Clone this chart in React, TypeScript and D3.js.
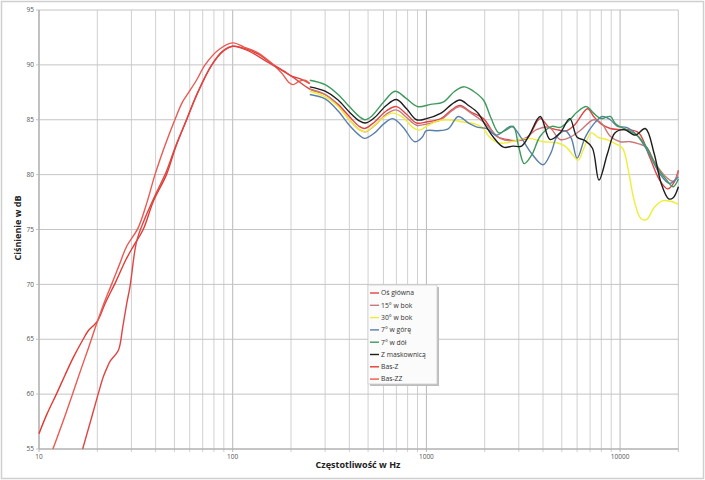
import React from "react";
import * as d3 from "d3";

type P = [number, number];

const yTicks = [55, 60, 65, 70, 75, 80, 85, 90, 95];
const xTickLabels = [10, 100, 1000, 10000];

const seriesNames = ["Oś główna", "15° w bok", "30° w bok", "7° w górę", "7° w dół", "Z maskownicą", "Bas-Z", "Bas-ZZ"];
const seriesColors = ["#e04545", "#c87a7a", "#eeee3a", "#5a80aa", "#3e9a5c", "#1e1e1e", "#e23a32", "#ea5a52"];

const osGlowna: P[] = [[16.8,55],[18.5,57.6],[20.2,60],[21.5,61.6],[22.7,62.6],[23.3,63],[25.7,64],[27,66],[28.4,68.3],[29.5,69.8],[31.9,73.9],[35,75.9],[40,78.2],[45.5,80.3],[51,82.7],[57.8,85],[65,87.2],[78,90],[90,91.3],[100,91.7],[120,91.3],[150,90.3],[200,89.0],[250,87.8],[300,87.3],[350,86.4],[400,85.3],[450,84.4],[480,84.2],[540,84.8],[620,85.8],[700,86.2],[790,85.5],[890,84.7],[1000,84.8],[1190,85.1],[1350,85.9],[1490,86.3],[1700,85.7],[1970,85.1],[2300,83.5],[2600,83.2],[2900,83.1],[3300,83.3],[3870,85.1],[4300,84.3],[4700,84.1],[5300,84.0],[5800,84.5],[6800,86.0],[7300,85.3],[8000,84.6],[8900,84.2],[9900,84.1],[11000,84.1],[12500,83.8],[14200,81.6],[16000,79.5],[17600,78.7],[19000,79.3],[20000,80.4]];
const bok15: P[] = [[250,87.8],[300,87.3],[350,86.3],[400,85.0],[450,84.1],[485,83.9],[550,84.6],[620,85.5],[700,85.9],[790,85.2],[890,84.5],[1000,84.6],[1190,85.0],[1350,85.8],[1490,86.2],[1700,85.6],[2000,84.7],[2400,83.3],[2900,83.1],[3300,83.4],[3700,84.1],[4300,84.3],[4900,83.2],[5500,83.4],[6200,84.0],[7300,85.0],[8000,84.7],[8900,83.5],[10000,83.0],[11300,83.0],[12500,82.8],[13700,82.5],[15000,81.2],[17000,79.9],[18800,79.4],[20000,80.2]];
const bok30: P[] = [[250,87.6],[300,87.1],[350,86.2],[400,85.0],[450,84.1],[480,83.9],[540,84.5],[600,85.2],[670,85.6],[760,85.2],[850,84.3],[920,84.05],[1000,84.4],[1150,84.9],[1300,85.0],[1550,84.8],[1800,84.6],[1970,84.2],[2100,83.5],[2350,82.9],[2600,82.9],[2900,83.1],[3400,83.3],[4000,83.0],[4700,82.9],[5200,82.6],[5700,81.8],[6070,81.3],[6500,82.4],[7100,83.8],[7700,83.4],[8500,83.2],[9500,82.8],[10300,82.4],[11000,80.5],[11800,77.7],[12800,76.0],[13700,75.9],[15000,77.0],[16500,77.6],[18000,77.6],[20000,77.3]];
const gora7: P[] = [[250,87.3],[300,86.9],[350,85.8],[400,84.5],[450,83.6],[480,83.3],[540,83.8],[600,84.6],[670,85.1],[760,84.3],[870,83.0],[950,83.4],[1000,84.0],[1150,84.0],[1300,84.2],[1460,85.3],[1650,84.7],[1850,84.3],[2050,84.2],[2300,83.6],[2750,84.4],[3100,83.3],[3500,81.9],[4000,80.9],[4400,82.0],[4700,83.4],[5200,84.0],[5600,83.3],[6000,81.5],[6600,83.4],[7300,84.6],[8100,85.3],[8900,85.0],[9700,84.4],[10800,84.3],[12200,83.6],[14000,82.0],[16000,80.1],[18000,79.2],[20000,79.8]];
const dol7: P[] = [[250,88.6],[300,88.2],[350,87.3],[400,86.2],[450,85.3],[480,85.0],[520,85.3],[600,86.6],[690,87.6],[780,87.0],[900,86.2],[1050,86.4],[1220,86.6],[1400,87.6],[1570,88.0],[1750,87.6],[1970,86.8],[2150,85.2],[2370,83.8],[2600,84.1],[2810,84.4],[3000,82.5],[3200,81.0],[3500,81.8],[3870,83.5],[4440,84.4],[4900,84.3],[5500,85.0],[6000,85.7],[6700,86.2],[7300,85.6],[8000,85.1],[8900,85.3],[9500,84.6],[10800,84.1],[12200,83.6],[13700,82.5],[15450,80.7],[17400,79.5],[18800,78.9],[20000,79.6]];
const maskownica: P[] = [[250,88.0],[300,87.6],[350,86.8],[400,85.7],[450,84.9],[485,84.7],[540,85.2],[620,86.3],[700,86.85],[790,86.0],[890,85.0],[1000,85.1],[1190,85.6],[1350,86.4],[1490,86.8],[1650,86.3],[1850,85.6],[2000,84.6],[2210,83.45],[2500,82.5],[2800,82.6],[3100,82.6],[3400,83.6],[3870,85.3],[4350,83.2],[4900,83.8],[5500,85.1],[6000,83.4],[6600,83.1],[7200,82.4],[7780,79.5],[8600,81.9],[9400,83.8],[10500,84.1],[12000,83.6],[13500,84.2],[15000,81.9],[16300,79.2],[17800,77.8],[18800,77.9],[20000,78.9]];
const basZ: P[] = [[10,56.4],[11,58.2],[12.3,60],[13.6,61.7],[15,63.3],[16.9,65],[18,65.8],[19,66.2],[20.1,66.7],[22,68.3],[25,70.3],[28,72.2],[31,73.6],[34.5,75],[39,77.6],[45.5,80],[51,82.6],[57.8,85],[66,87.5],[78,90],[88,91.2],[100,91.7],[115,91.5],[135,91.0],[160,90.1],[185,89.4],[200,89.0],[225,88.7],[250,88.3]];
const basZZ: P[] = [[11.8,55],[13.3,57.5],[14.9,60],[16.5,62.3],[18,64.2],[20.1,66.7],[22,68.6],[23.7,70],[26,71.8],[28.4,73.5],[32.4,75.1],[36,77.4],[39.7,80],[45,82.8],[50.3,85],[55,86.6],[58.8,87.4],[65,88.6],[72,90],[85,91.4],[100,92.0],[115,91.6],[135,91.1],[160,90.1],[180,89.2],[195,88.4],[205,88.2],[220,88.5],[236,88.6],[250,88.3]];

const seriesData: P[][] = [osGlowna, bok15, bok30, gora7, dol7, maskownica, basZ, basZZ];
const drawOrder = [6, 7, 0, 1, 2, 3, 4, 5];

const W = 705, H = 480;
const L = 39, R = 678.4, T = 10, B = 449;

export default function App() {
  const x = d3.scaleLog().domain([10, 20000]).range([L, R]);
  const y = d3.scaleLinear().domain([55, 95]).range([B, T]);
  const line = d3.line<P>().x(d => x(d[0])).y(d => y(d[1])).curve(d3.curveCatmullRom.alpha(0.5));

  const vGrid: number[] = [];
  for (let dec = 10; dec <= 10000; dec *= 10) {
    for (let m = 1; m <= 9; m++) {
      const v = dec * m;
      if (v <= 20000) vGrid.push(v);
    }
  }
  vGrid.push(20000);

  const font = "'Open Sans', 'Liberation Sans', sans-serif";
  const legX = 368, legY = 285, legW = 69, legH = 99, rowH = 12.3;

  return (
    <div style={{ position: "fixed", left: 0, top: 0 }}>
      <svg width={W} height={H} style={{ display: "block", background: "#fff" }}>
        <rect x={1.5} y={1.5} width={W - 3} height={H - 3} fill="#fff" stroke="#cfcfcf" strokeWidth={1.5} />
        <g>
          {vGrid.map((v, i) => {
            const major = Math.abs(Math.log10(v) % 1) < 1e-9;
            return (
              <line key={"v" + i} x1={x(v)} x2={x(v)} y1={T} y2={B + 3} stroke={major ? "#b8b8b8" : "#d0d0d0"} strokeWidth={1} />
            );
          })}
          {yTicks.map(t => (
            <line key={"h" + t} x1={L - 3} x2={R} y1={y(t)} y2={y(t)} stroke="#c4c4c4" strokeWidth={1} />
          ))}
          <line x1={L} x2={L} y1={T} y2={B} stroke="#a8a8a8" strokeWidth={1} />
          <line x1={L} x2={R} y1={B} y2={B} stroke="#a8a8a8" strokeWidth={1} />
        </g>
        <g fontFamily={font} fontSize={6.5} fill="#555">
          {yTicks.map(t => (
            <text key={"yt" + t} x={L - 5} y={y(t) + 2.2} textAnchor="end">{t}</text>
          ))}
          {xTickLabels.map(t => (
            <text key={"xt" + t} x={x(t)} y={B + 10} textAnchor="middle">{t}</text>
          ))}
        </g>
        <text x={21} y={228} transform="rotate(-90 21 228)" textAnchor="middle" fontFamily={font} fontWeight="bold" fontSize={9} fill="#222">Ciśnienie w dB</text>
        <text x={358} y={468} textAnchor="middle" fontFamily={font} fontWeight="bold" fontSize={9} fill="#222">Częstotliwość w Hz</text>
        <g fill="none" strokeWidth={1.4} strokeLinejoin="round">
          {drawOrder.map(i => (
            <path key={"s" + i} d={line(seriesData[i]) || ""} stroke={seriesColors[i]} />
          ))}
        </g>
        <g>
          <rect x={legX + 2} y={legY + 2} width={legW} height={legH} fill="#bdbdbd" />
          <rect x={legX} y={legY} width={legW} height={legH} fill="#fbfbfb" stroke="#cfcfcf" strokeWidth={0.8} />
          {seriesNames.map((n, i) => (
            <g key={"l" + i}>
              <line x1={legX + 2} x2={legX + 11} y1={legY + 8 + i * rowH} y2={legY + 8 + i * rowH} stroke={seriesColors[i]} strokeWidth={1.4} />
              <text x={legX + 13} y={legY + 10.3 + i * rowH} fontFamily={font} fontSize={6.8} fill="#333">{n}</text>
            </g>
          ))}
        </g>
      </svg>
    </div>
  );
}
